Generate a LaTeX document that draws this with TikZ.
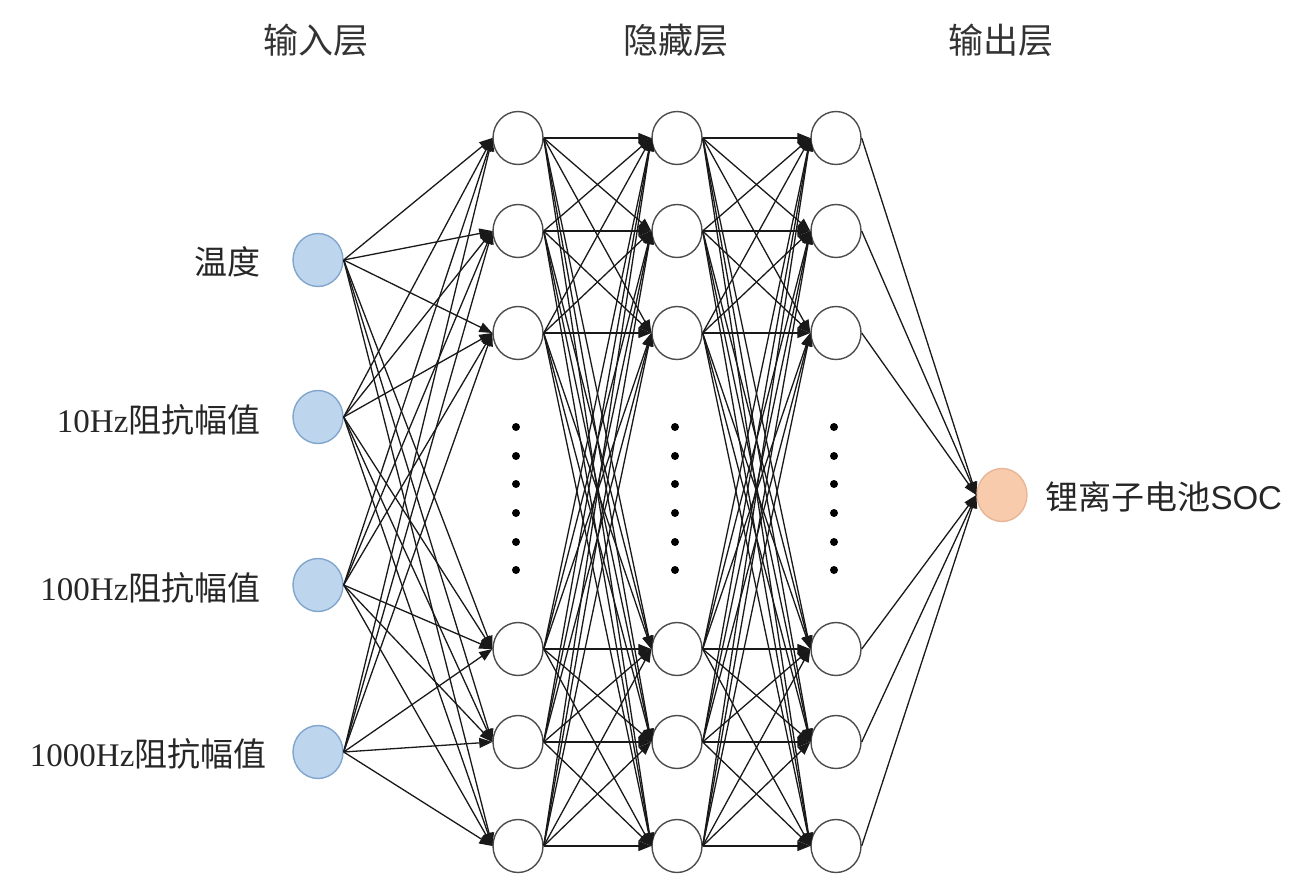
\documentclass[tikz,border=0pt]{standalone}
\usepackage{fontspec}
\setmainfont{Liberation Serif}
\newfontfamily\cjk{Noto Sans CJK SC}
\newfontfamily\latsans{Liberation Sans}
\usetikzlibrary{arrows.meta,shapes.geometric}
\definecolor{inblue}{RGB}{189,214,238}
\definecolor{inedge}{RGB}{130,165,205}
\definecolor{outorange}{RGB}{248,203,173}
\definecolor{outedge}{RGB}{232,182,150}
\tikzset{
  neuron/.style={ellipse,draw=black!70,line width=1.4pt,fill=white,
    minimum width=50pt,minimum height=53pt,inner sep=0pt},
  innode/.style={neuron,draw=inedge,fill=inblue},
  outnode/.style={neuron,draw=outedge,fill=outorange},
  link/.style={line width=1.3pt,draw=black!90,-{Triangle[length=13pt,width=10pt]}},
  title/.style={font=\fontsize{35}{40}\selectfont\cjk,text=black!80},
  lab/.style={font=\fontsize{33}{38}\selectfont,text=black!85,anchor=east}
}
\begin{document}
\begin{tikzpicture}[x=1pt,y=-1pt]
  \useasboundingbox (0,0) rectangle (1294,894);
  % layer titles
  \node[title] (tin) at (316,40) {输入层};
  \node[title] (thid) at (676,40) {隐藏层};
  \node[title] (tout) at (1001,40) {输出层};
  % input layer
  \draw
    (318,260) node[innode] (i1){}
    (318,417) node[innode] (i2){}
    (318,585) node[innode] (i3){}
    (318,752) node[innode] (i4){};
  \node[lab] (l1) at (264,262) {\cjk 温度};
  \node[lab] (l2) at (264,420) {10Hz{\cjk 阻抗幅值}};
  \node[lab] (l3) at (264,588) {100Hz{\cjk 阻抗幅值}};
  \node[lab] (l4) at (270,754) {1000Hz{\cjk 阻抗幅值}};
  % hidden layers
  \foreach \c/\x in {a/518,b/677,c/836}
    \foreach \r/\y in {1/138,2/231,3/333,4/649,5/742,6/846}
      \node[neuron] (\c\r) at (\x,\y) {};
  \foreach \x in {516,675,834}
    \foreach \y in {427,456,484,513,542,570}
      \fill (\x,\y) circle (4pt);
  % output layer
  \node[outnode] (o) at (1002,495) {};
  \node[lab,anchor=west] (lo) at (1042,497) {{\cjk 锂离子电池}{\latsans SOC}};
  % connections
  \begin{scope}[link]
    \foreach \i in {1,...,4}
      \foreach \j in {1,...,6}
        \draw (i\i.east) -- (a\j.west);
    \foreach \i in {1,...,6}
      \foreach \j in {1,...,6} {
        \draw (a\i.east) -- (b\j.west);
        \draw (b\i.east) -- (c\j.west);
      }
    \foreach \i in {1,...,6}
      \draw (c\i.east) -- (o.west);
  \end{scope}
\end{tikzpicture}
\end{document}
